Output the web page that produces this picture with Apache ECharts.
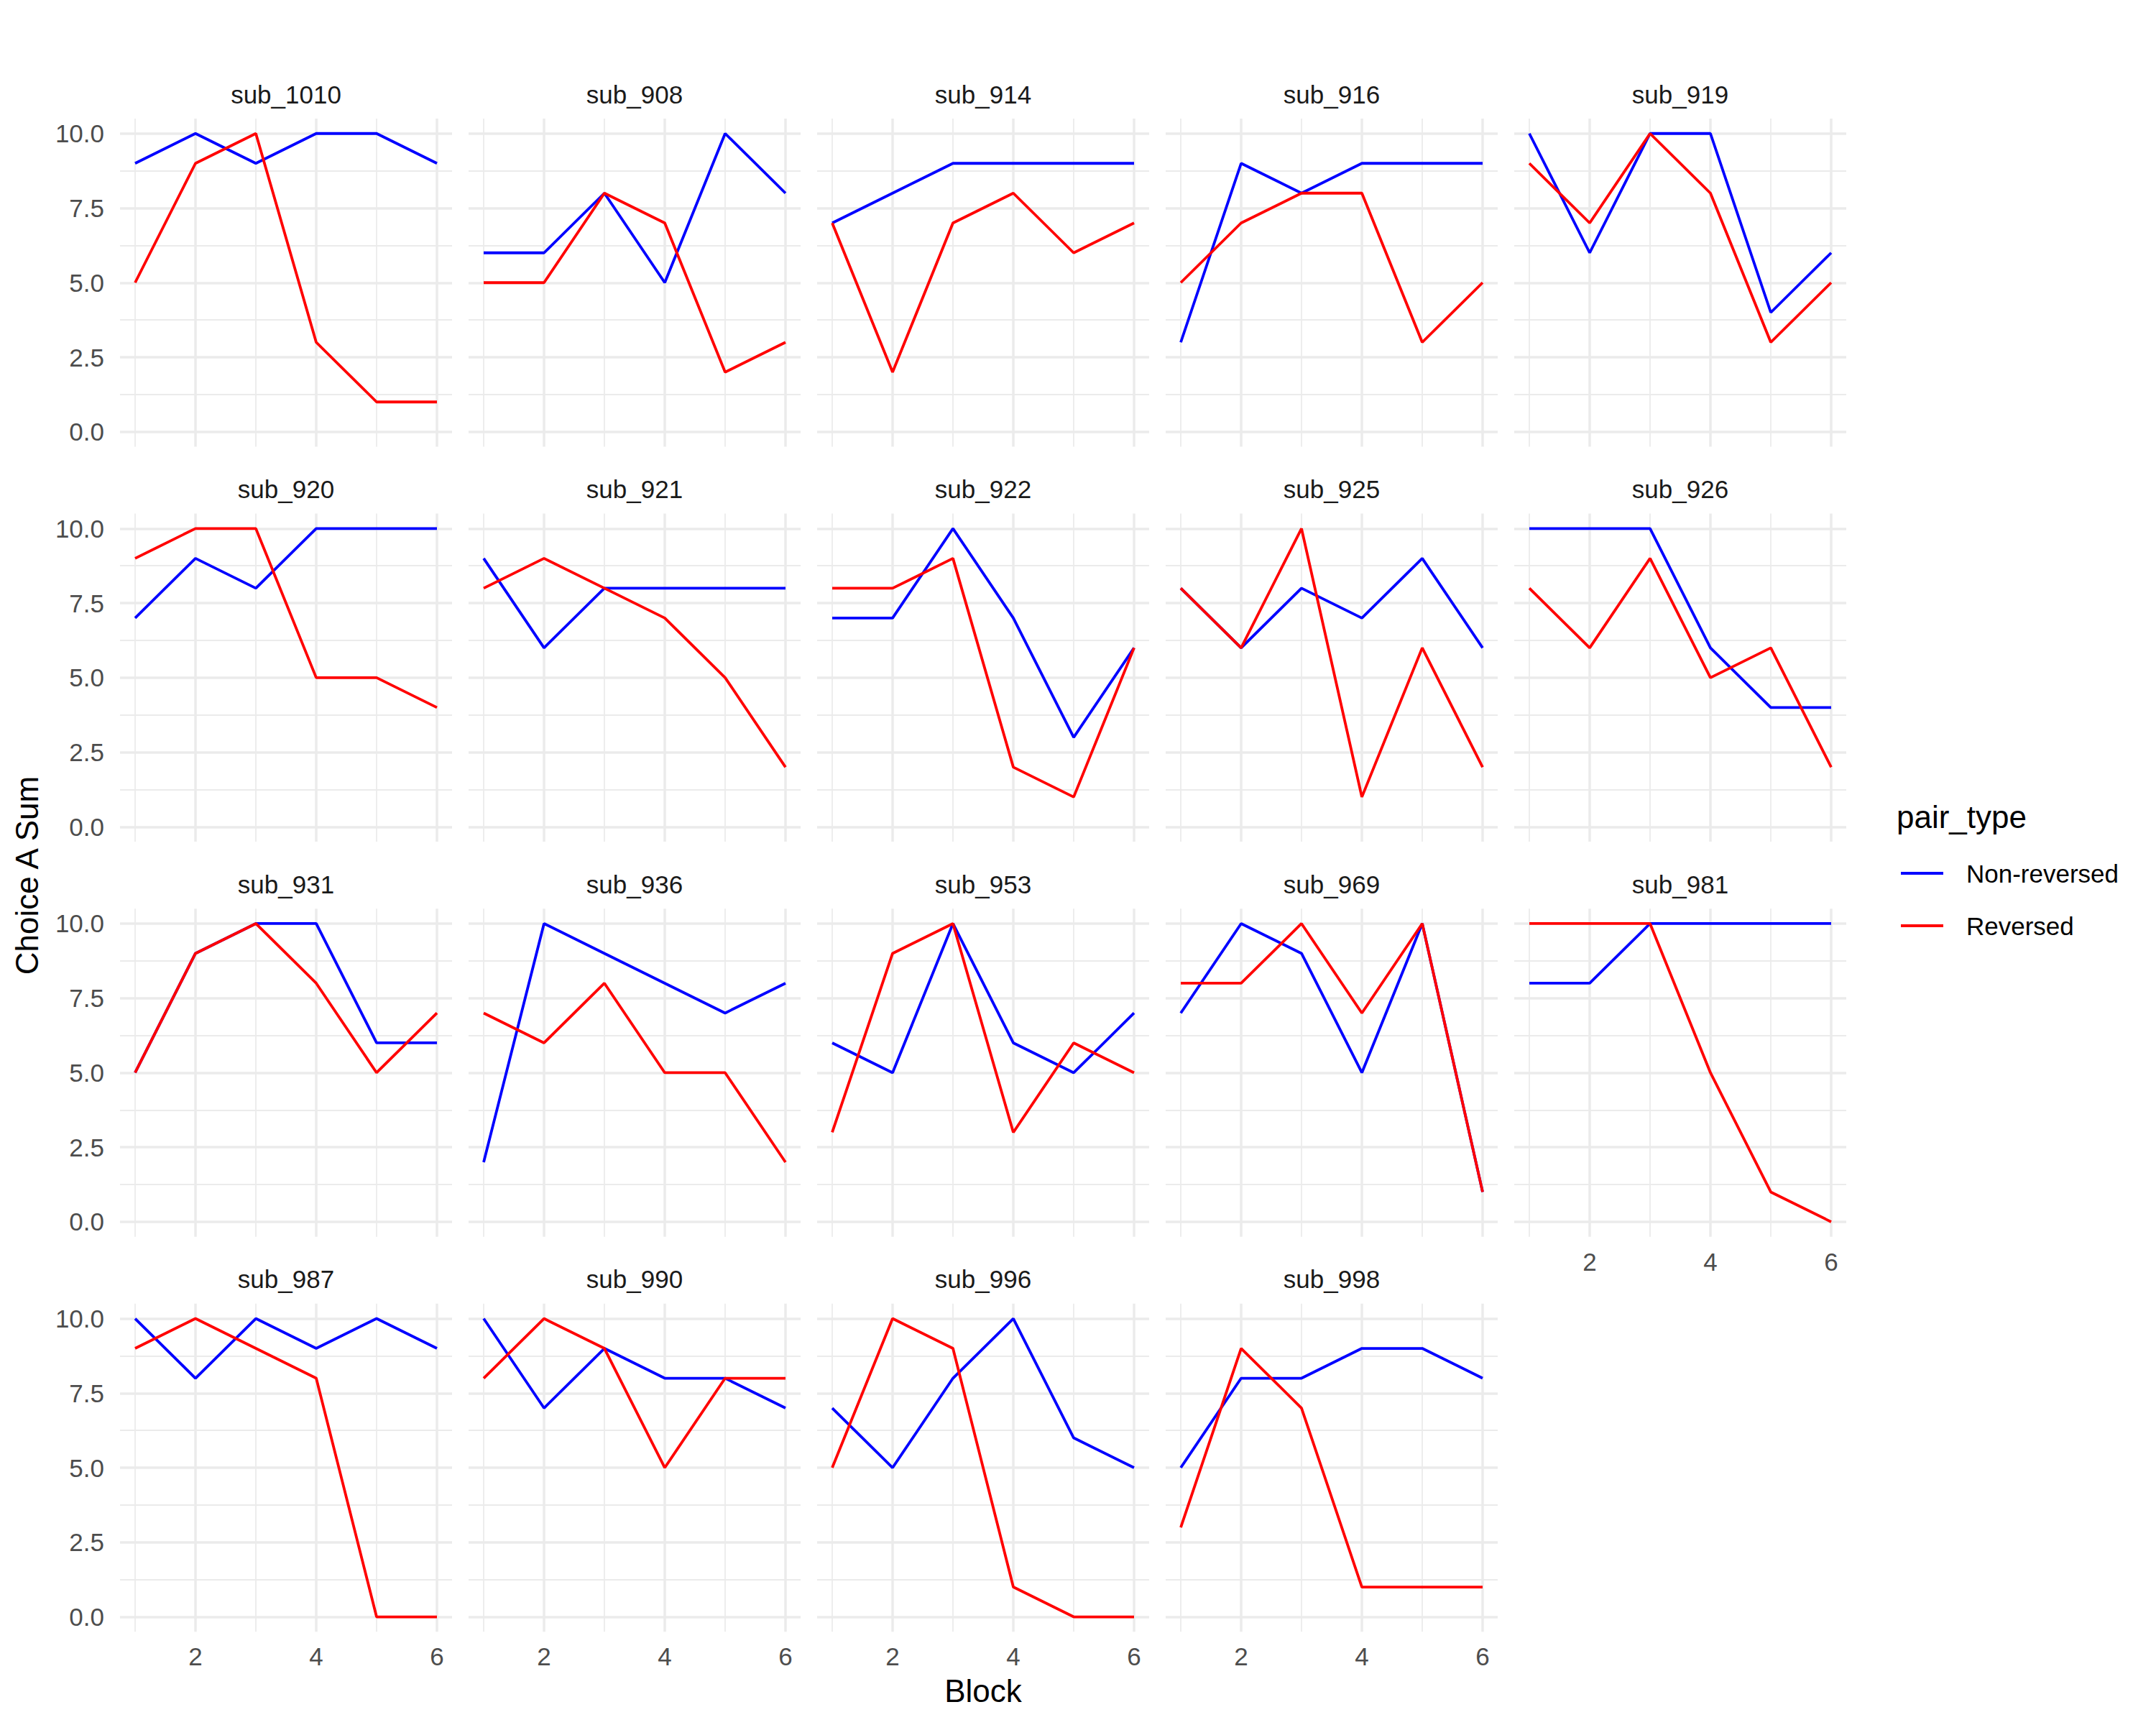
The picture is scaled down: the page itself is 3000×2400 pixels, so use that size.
<!DOCTYPE html>
<html>
<head>
<meta charset="utf-8">
<script src="https://cdn.jsdelivr.net/npm/echarts@6/dist/echarts.min.js"></script>
<style>
html,body{margin:0;padding:0;background:#fff;}
#chart{width:3000px;height:2400px;}
</style>
</head>
<body>
<div id="chart"></div>
<script>
// ---------------- data ----------------
const subjects = ['sub_1010','sub_908','sub_914','sub_916','sub_919',
                  'sub_920','sub_921','sub_922','sub_925','sub_926',
                  'sub_931','sub_936','sub_953','sub_969','sub_981',
                  'sub_987','sub_990','sub_996','sub_998'];
const blocks = [1,2,3,4,5,6];
const nonReversed = [
  [9,10,9,10,10,9],
  [6,6,8,5,10,8],
  [7,8,9,9,9,9],
  [3,9,8,9,9,9],
  [10,6,10,10,4,6],
  [7,9,8,10,10,10],
  [9,6,8,8,8,8],
  [7,7,10,7,3,6],
  [8,6,8,7,9,6],
  [10,10,10,6,4,4],
  [5,9,10,10,6,6],
  [2,10,9,8,7,8],
  [6,5,10,6,5,7],
  [7,10,9,5,10,1],
  [8,8,10,10,10,10],
  [10,8,10,9,10,9],
  [10,7,9,8,8,7],
  [7,5,8,10,6,5],
  [5,8,8,9,9,8]
];
const reversed = [
  [5,9,10,3,1,1],
  [5,5,8,7,2,3],
  [7,2,7,8,6,7],
  [5,7,8,8,3,5],
  [9,7,10,8,3,5],
  [9,10,10,5,5,4],
  [8,9,8,7,5,2],
  [8,8,9,2,1,6],
  [8,6,10,1,6,2],
  [8,6,9,5,6,2],
  [5,9,10,8,5,7],
  [7,6,8,5,5,2],
  [3,9,10,3,6,5],
  [8,8,10,7,10,1],
  [10,10,10,5,1,0],
  [9,10,9,8,0,0],
  [8,10,9,5,8,8],
  [5,10,9,1,0,0],
  [3,9,7,1,1,1]
];
const seriesNames = ['Non-reversed','Reversed'];
const xMajorTicks = [2,4,6];
const xMinorTicks = [1,3,5];
const yMajorTicks = [0,2.5,5,7.5,10];
const yMinorTicks = [1.25,3.75,6.25,8.75];
const xTitle = 'Block';
const yTitle = 'Choice A Sum';
const legendTitle = 'pair_type';

// ---------------- layout ----------------
const FONT = '"Liberation Sans", Arial, Helvetica, sans-serif';
const NCOL = 5;
const P_LEFT = 167, P_W = 462, P_PITCH_X = 485;
const P_TOP = 165, P_H = 456.5, P_PITCH_Y = 549.6;
const GRID_COL = '#EBEBEB';
const MAJOR_W = 3.5, MINOR_W = 1.8;

const grids = [], xAxes = [], yAxes = [], series = [], graphics = [];
const nPanels = subjects.length;
const nRows = Math.ceil(nPanels / NCOL);

function isBottom(i){
  const r = Math.floor(i / NCOL), c = i % NCOL;
  if (r === nRows - 1) return true;
  // no panel below?
  return (i + NCOL) >= nPanels;
}

for (let i = 0; i < nPanels; i++) {
  const r = Math.floor(i / NCOL), c = i % NCOL;
  const left = P_LEFT + c * P_PITCH_X;
  const top = P_TOP + r * P_PITCH_Y;
  grids.push({left: left, top: top, width: P_W, height: P_H, containLabel: false, outerBoundsMode: 'none'});
  const bottom = isBottom(i);
  // major x axis
  xAxes.push({
    type: 'value', gridIndex: i, min: 0.75, max: 6.25,
    axisLine: {show: false},
    axisTick: {show: false, customValues: xMajorTicks},
    axisLabel: {show: bottom, customValues: xMajorTicks, margin: 17,
      color: '#4D4D4D', fontSize: 35, fontFamily: FONT,
      formatter: v => String(v)},
    splitLine: {show: true, lineStyle: {color: GRID_COL, width: MAJOR_W}}
  });
  // minor x axis
  xAxes.push({
    type: 'value', gridIndex: i, min: 0.75, max: 6.25,
    axisLine: {show: false},
    axisTick: {show: false, customValues: xMinorTicks},
    axisLabel: {show: false, customValues: xMinorTicks},
    splitLine: {show: true, lineStyle: {color: GRID_COL, width: MINOR_W}}
  });
  yAxes.push({
    type: 'value', gridIndex: i, min: -0.5, max: 10.5,
    axisLine: {show: false},
    axisTick: {show: false, customValues: yMajorTicks},
    axisLabel: {show: c === 0, customValues: yMajorTicks, margin: 22,
      color: '#4D4D4D', fontSize: 35, fontFamily: FONT,
      formatter: v => v.toFixed(1)},
    splitLine: {show: true, lineStyle: {color: GRID_COL, width: MAJOR_W}}
  });
  yAxes.push({
    type: 'value', gridIndex: i, min: -0.5, max: 10.5,
    axisLine: {show: false},
    axisTick: {show: false, customValues: yMinorTicks},
    axisLabel: {show: false, customValues: yMinorTicks},
    splitLine: {show: true, lineStyle: {color: GRID_COL, width: MINOR_W}}
  });
  const groups = [nonReversed[i], reversed[i]];
  const colors = ['#0000FF', '#FF0000'];
  for (let s = 0; s < 2; s++) {
    series.push({
      type: 'line', name: seriesNames[s],
      xAxisIndex: 2 * i, yAxisIndex: 2 * i,
      data: blocks.map((b, k) => [b, groups[s][k]]),
      showSymbol: false, symbol: 'none',
      lineStyle: {color: colors[s], width: 3.8},
      itemStyle: {color: colors[s]},
      z: 3 + s,
      animation: false
    });
  }
  graphics.push({
    type: 'text', x: left + P_W / 2, y: top - 34, silent: true,
    style: {text: subjects[i], fill: '#1A1A1A', fontSize: 35, fontFamily: FONT,
      textAlign: 'center', textVerticalAlign: 'middle'}
  });
}

graphics.push({
  type: 'text', x: 1368, y: 2352,
  style: {text: xTitle, fill: '#000', fontSize: 44, fontFamily: FONT,
    textAlign: 'center', textVerticalAlign: 'middle'}
});
graphics.push({
  type: 'text', x: 37, y: 1218, rotation: Math.PI / 2,
  style: {text: yTitle, fill: '#000', fontSize: 44, fontFamily: FONT,
    textAlign: 'center', textVerticalAlign: 'middle'}
});
graphics.push({
  type: 'text', x: 2639, y: 1136,
  style: {text: legendTitle, fill: '#000', fontSize: 44, fontFamily: FONT,
    textAlign: 'left', textVerticalAlign: 'middle'}
});

const chart = echarts.init(document.getElementById('chart'), null, {renderer: 'svg', width: 3000, height: 2400});
chart.setOption({
  backgroundColor: '#FFFFFF',
  animation: false,
  grid: grids,
  xAxis: xAxes,
  yAxis: yAxes,
  series: series,
  legend: {
    data: seriesNames,
    orient: 'vertical',
    left: 2645, top: 1197.5,
    icon: 'rect',
    itemWidth: 59, itemHeight: 4,
    itemGap: 38,
    padding: 0,
    selectedMode: false,
    textStyle: {color: '#000', fontSize: 35, fontFamily: FONT, lineHeight: 35, padding: [0, 0, 0, 27]}
  },
  graphic: graphics
});
</script>
</body>
</html>
